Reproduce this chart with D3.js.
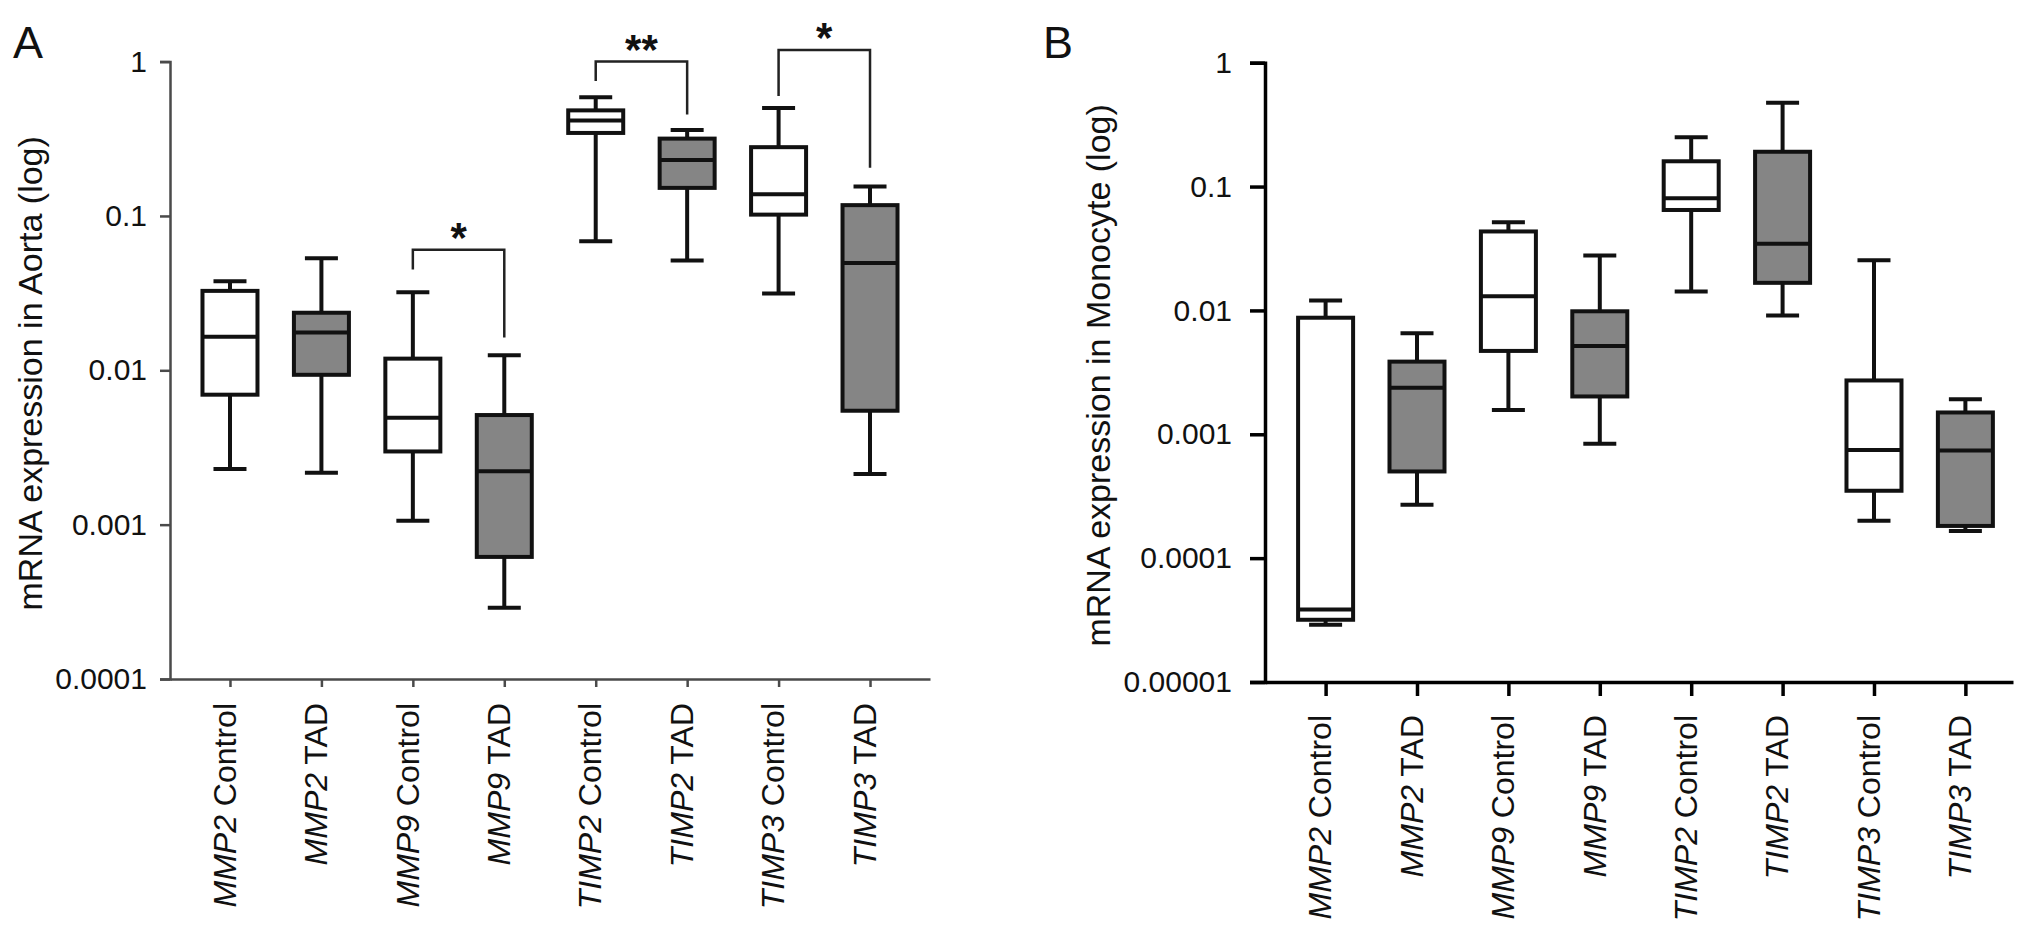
<!DOCTYPE html>
<html>
<head>
<meta charset="utf-8">
<script src="https://cdn.jsdelivr.net/npm/d3@7"></script>
<style>
  body { margin: 0; background: #fff; }
  svg { display: block; font-family: 'Liberation Sans', Arial, Helvetica, sans-serif; }
</style>
</head>
<body>
<svg id="chart" width="2032" height="937"></svg>
<script>
// x categories: gene (italic) + condition
let genes = ['MMP2', 'MMP2', 'MMP9', 'MMP9', 'TIMP2', 'TIMP2', 'TIMP3', 'TIMP3']
let conditions = ['Control', 'TAD', 'Control', 'TAD', 'Control', 'TAD', 'Control', 'TAD']
let boxFills = ['#ffffff', '#858585', '#ffffff', '#858585', '#ffffff', '#858585', '#ffffff', '#858585']

// panel A - aorta
let aortaMax = [0.0378, 0.0533, 0.032, 0.0125, 0.587, 0.360, 0.50, 0.155]
let aortaQ3 = [0.0327, 0.0236, 0.0119, 0.00513, 0.483, 0.317, 0.279, 0.1175]
let aortaMedian = [0.0165, 0.0176, 0.00493, 0.00222, 0.415, 0.230, 0.138, 0.0496]
let aortaQ1 = [0.00695, 0.00935, 0.00298, 0.000618, 0.345, 0.152, 0.102, 0.00547]
let aortaMin = [0.00229, 0.00217, 0.00106, 0.000289, 0.0685, 0.0515, 0.0315, 0.00213]

let aortaTicks = [1, 0.1, 0.01, 0.001, 0.0001]
let aortaTickLabels = ['1', '0.1', '0.01', '0.001', '0.0001']

// significance brackets for panel A
let aortaSigFrom = [2, 4, 6]
let aortaSigTo = [3, 5, 7]
let aortaSigBar = [0.0605, 1.0, 1.19]
let aortaSigLeftEnd = [0.045, 0.748, 0.599]
let aortaSigRightEnd = [0.0163, 0.455, 0.2055]
let aortaSigLabel = ['*', '**', '*']

// panel B - monocyte
let monoMax = [0.0120, 0.00654, 0.0514, 0.0277, 0.250, 0.474, 0.0254, 0.00192]
let monoQ3 = [0.00873, 0.00386, 0.0434, 0.00984, 0.160, 0.191, 0.00272, 0.00150]
let monoMedian = [0.0000384, 0.00237, 0.0130, 0.00515, 0.0805, 0.0345, 0.000746, 0.000740]
let monoQ1 = [0.0000318, 0.000501, 0.00471, 0.00202, 0.0647, 0.0167, 0.000350, 0.000182]
let monoMin = [0.0000290, 0.000270, 0.00157, 0.00084, 0.0142, 0.0091, 0.000200, 0.000166]

let monoTicks = [1, 0.1, 0.01, 0.001, 0.0001, 0.00001]
let monoTickLabels = ['1', '0.1', '0.01', '0.001', '0.0001', '0.00001']


let svg = d3.select('#chart')

svg.append('rect')
    .attr('width', 2032)
    .attr('height', 937)
    .attr('fill', '#ffffff')

let drawPanel = function(p) {
    let x = d3.scalePoint()
        .domain(d3.range(genes.length))
        .range([p.left, p.right])
        .padding(p.pad)
        .align(p.align)

    let y = d3.scaleLog()
        .domain([p.yMin, 1])
        .range([p.bottom, p.top])

    let g = svg.append('g')

    // panel letter
    g.append('text')
        .attr('x', p.letterX)
        .attr('y', 58)
        .attr('font-size', 45)
        .attr('fill', '#111')
        .text(p.letter)

    // y title
    g.append('text')
        .attr('transform', 'translate(' + p.titleX + ',' + ((p.top + p.bottom) / 2 + 3) + ') rotate(-90)')
        .attr('text-anchor', 'middle')
        .attr('font-size', 34)
        .attr('fill', '#111')
        .text(p.title)

    // y axis
    let yAxis = g.append('g')
        .attr('transform', 'translate(' + p.left + ',0)')
        .call(d3.axisLeft(y)
            .tickValues(p.ticks)
            .tickFormat((d, i) => p.tickLabels[i])
            .tickSize(p.yTick)
            .tickPadding(p.yPad))
    yAxis.attr('font-family', null).attr('font-size', null)
    yAxis.selectAll('path, line')
        .attr('stroke', p.axisColor)
        .attr('stroke-width', p.axisWidth)
    yAxis.selectAll('text')
        .attr('font-size', 30)
        .attr('fill', '#111')

    // x axis
    let xAxis = g.append('g')
        .attr('transform', 'translate(0,' + p.bottom + ')')
        .call(d3.axisBottom(x)
            .tickSize(p.xTick)
            .tickSizeOuter(0)
            .tickFormat(''))
    xAxis.selectAll('path, line')
        .attr('stroke', p.axisColor)
        .attr('stroke-width', p.axisWidth)

    let labels = g.selectAll('.xlabel')
        .data(genes)
        .enter()
        .append('text')
        .attr('class', 'xlabel')
        .attr('transform', (d, i) => 'translate(' + x(i) + ',' + (p.bottom + p.labelGap) + ') rotate(-90)')
        .attr('text-anchor', 'end')
        .attr('dy', '0.18em')
        .attr('font-size', 32)
        .attr('fill', '#111')
    labels.append('tspan')
        .attr('font-style', 'italic')
        .text((d) => d)
    labels.append('tspan')
        .text((d, i) => ' ' + conditions[i])

    // boxes
    let boxW = 55
    let capW = 33
    let box = g.selectAll('.box')
        .data(genes)
        .enter()
        .append('g')
        .attr('class', 'box')
        .attr('transform', (d, i) => 'translate(' + x(i) + ',0)')

    box.append('line')
        .attr('y1', (d, i) => y(p.max[i]))
        .attr('y2', (d, i) => y(p.q3[i]))
    box.append('line')
        .attr('y1', (d, i) => y(p.q1[i]))
        .attr('y2', (d, i) => y(p.min[i]))
    box.append('line')
        .attr('x1', -capW / 2).attr('x2', capW / 2)
        .attr('y1', (d, i) => y(p.max[i]))
        .attr('y2', (d, i) => y(p.max[i]))
    box.append('line')
        .attr('x1', -capW / 2).attr('x2', capW / 2)
        .attr('y1', (d, i) => y(p.min[i]))
        .attr('y2', (d, i) => y(p.min[i]))
    box.append('rect')
        .attr('x', -boxW / 2)
        .attr('width', boxW)
        .attr('y', (d, i) => y(p.q3[i]))
        .attr('height', (d, i) => y(p.q1[i]) - y(p.q3[i]))
        .attr('fill', (d, i) => boxFills[i])
    box.append('line')
        .attr('x1', -boxW / 2).attr('x2', boxW / 2)
        .attr('y1', (d, i) => y(p.median[i]))
        .attr('y2', (d, i) => y(p.median[i]))
    box.selectAll('line, rect')
        .attr('stroke', '#111')
        .attr('stroke-width', 4)

    // significance brackets
    if (p.sigFrom) {
        let sig = g.selectAll('.sig')
            .data(p.sigFrom)
            .enter()
            .append('g')
            .attr('class', 'sig')
        sig.append('path')
            .attr('d', (d, i) => {
                let a = x(p.sigFrom[i]), b = x(p.sigTo[i])
                return 'M' + a + ',' + y(p.sigLeftEnd[i]) +
                    'V' + y(p.sigBar[i]) +
                    'H' + b +
                    'V' + y(p.sigRightEnd[i])
            })
            .attr('fill', 'none')
            .attr('stroke', '#222')
            .attr('stroke-width', 2.5)
        sig.append('text')
            .attr('x', (d, i) => (x(p.sigFrom[i]) + x(p.sigTo[i])) / 2)
            .attr('y', (d, i) => y(p.sigBar[i]) + 2)
            .attr('text-anchor', 'middle')
            .attr('font-size', 42)
            .attr('font-weight', 'bold')
            .attr('fill', '#111')
            .text((d, i) => p.sigLabel[i])
    }
}

drawPanel({
    letter: 'A', letterX: 13,
    title: 'mRNA expression in Aorta (log)', titleX: 42,
    left: 170, right: 930, top: 61.6, bottom: 679,
    pad: 0.656, align: 0.5, yMin: 0.0001,
    ticks: aortaTicks, tickLabels: aortaTickLabels,
    axisColor: '#4a4a4a', axisWidth: 2.5,
    yTick: 10, yPad: 13, xTick: 8, labelGap: 24,
    max: aortaMax, q3: aortaQ3, median: aortaMedian, q1: aortaQ1, min: aortaMin,
    sigFrom: aortaSigFrom, sigTo: aortaSigTo, sigBar: aortaSigBar,
    sigLeftEnd: aortaSigLeftEnd, sigRightEnd: aortaSigRightEnd, sigLabel: aortaSigLabel
})

drawPanel({
    letter: 'B', letterX: 1043,
    title: 'mRNA expression in Monocyte (log)', titleX: 1110,
    left: 1265, right: 2013, top: 62.7, bottom: 682,
    pad: 0.592, align: 0.56, yMin: 0.00001,
    ticks: monoTicks, tickLabels: monoTickLabels,
    axisColor: '#000', axisWidth: 3.5,
    yTick: 15, yPad: 18, xTick: 14, labelGap: 33,
    max: monoMax, q3: monoQ3, median: monoMedian, q1: monoQ1, min: monoMin
})
</script>
</body>
</html>
